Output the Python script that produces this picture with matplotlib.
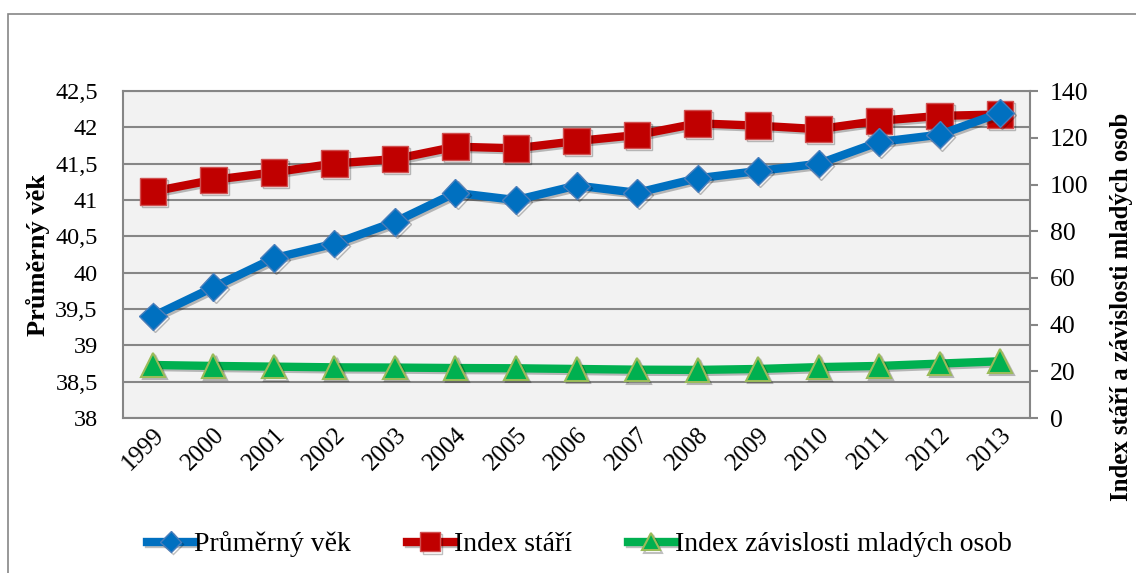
import matplotlib.pyplot as plt
from matplotlib.patches import Rectangle
import matplotlib.patheffects as pe

plt.rcParams['font.family'] = ['Liberation Serif', 'DejaVu Serif']

years = ['1999', '2000', '2001', '2002', '2003', '2004', '2005', '2006',
         '2007', '2008', '2009', '2010', '2011', '2012', '2013']

# Průměrný věk (left axis)
prumerny_vek = [39.4, 39.8, 40.2, 40.4, 40.7, 41.1, 41.0, 41.2,
                41.1, 41.3, 41.4, 41.5, 41.8, 41.9, 42.2]

# Index stáří (right axis)
index_stari = [97.0, 102.0, 105.2, 109.0, 110.9, 116.2, 115.5, 118.6,
               121.2, 126.2, 125.2, 123.7, 127.3, 129.4, 130.0]

# Index závislosti mladých osob (right axis)
index_mladych = [22.7, 22.3, 22.0, 21.7, 21.6, 21.4, 21.3, 21.0,
                 20.7, 20.6, 21.0, 21.8, 22.3, 23.3, 24.3]

left_ticks = [38, 38.5, 39, 39.5, 40, 40.5, 41, 41.5, 42, 42.5]
left_labels = ['38', '38,5', '39', '39,5', '40', '40,5', '41', '41,5', '42', '42,5']
right_ticks = [0, 20, 40, 60, 80, 100, 120, 140]

blue = '#0070C0'
red = '#C00000'
green = '#00B050'
grid_col = '#868686'

fig = plt.figure(figsize=(11.36, 5.73), dpi=100)
ax = fig.add_axes([0.108, 0.2705, 0.799, 0.5705])
ax2 = ax.twinx()

x = list(range(len(years)))
shadow = [pe.SimpleLineShadow(offset=(1.5, -1.5), alpha=0.25), pe.Normal()]

ax.set_facecolor('#F2F2F2')
ax.set_xlim(-0.5, len(years) - 0.5)
ax.set_ylim(38, 42.5)
ax.set_yticks(left_ticks)
ax.set_yticklabels(left_labels, fontsize=17.5)
ax.grid(axis='y', color=grid_col, linewidth=1.5)
ax.set_axisbelow(True)
ax.tick_params(axis='y', length=0, pad=18)
ax.tick_params(axis='x', length=0, pad=4)
ax.set_xticks(x)
ax.set_xticklabels(years, fontsize=18, rotation=45, ha='right', rotation_mode='anchor')
for s in ax.spines.values():
    s.set_color(grid_col)
    s.set_linewidth(1.5)
ax.set_ylabel('Průměrný věk', fontsize=19, fontweight='bold')
ax.yaxis.set_label_coords(-0.08, 0.5)

ax2.set_ylim(0, 140)
ax2.set_yticks(right_ticks)
ax2.set_yticklabels([str(t) for t in right_ticks], fontsize=18.5)
ax2.tick_params(axis='y', length=6, width=1.5, color=grid_col, pad=8)
for s in ax2.spines.values():
    s.set_visible(False)
ax2.set_ylabel('Index stáří a závislosti mladých osob', fontsize=17.8,
               fontweight='bold')
ax2.yaxis.set_label_coords(1.088, 0.34)

l2, = ax2.plot(x, index_stari, color=red, linewidth=6, marker='s', markersize=19,
               markerfacecolor=red, markeredgecolor='#D05050', markeredgewidth=1,
               path_effects=shadow, zorder=3)
l3, = ax2.plot(x, index_mladych, color=green, linewidth=6, marker='^', markersize=17,
               markerfacecolor=green, markeredgecolor='#9BBB59', markeredgewidth=1.5,
               path_effects=shadow, zorder=3)
# blue line drawn on the left scale, converted so it sits on top of the right-axis lines
l1, = ax2.plot(x, [(v - 38) / 4.5 * 140 for v in prumerny_vek], color=blue, linewidth=6,
               marker='D', markersize=14, markerfacecolor=blue, markeredgecolor='#4A7EBB',
               markeredgewidth=1, path_effects=shadow, zorder=3)

ax.set_zorder(ax2.get_zorder() - 1)
ax2.patch.set_visible(False)

fig.legend([l1, l2, l3], ['Průměrný věk', 'Index stáří', 'Index závislosti mladých osob'],
           loc='center', bbox_to_anchor=(0.51, 0.05), ncol=3, frameon=False,
           prop={'family': 'Liberation Serif', 'size': 20},
           handlelength=1.7, handletextpad=0.0, columnspacing=2.0,
           markerscale=0.75)

fig.patches.append(Rectangle((0.007, -0.01), 1.0, 0.985, transform=fig.transFigure,
                             fill=False, edgecolor=grid_col, linewidth=1.2))

fig.savefig('out.png', dpi=100)
